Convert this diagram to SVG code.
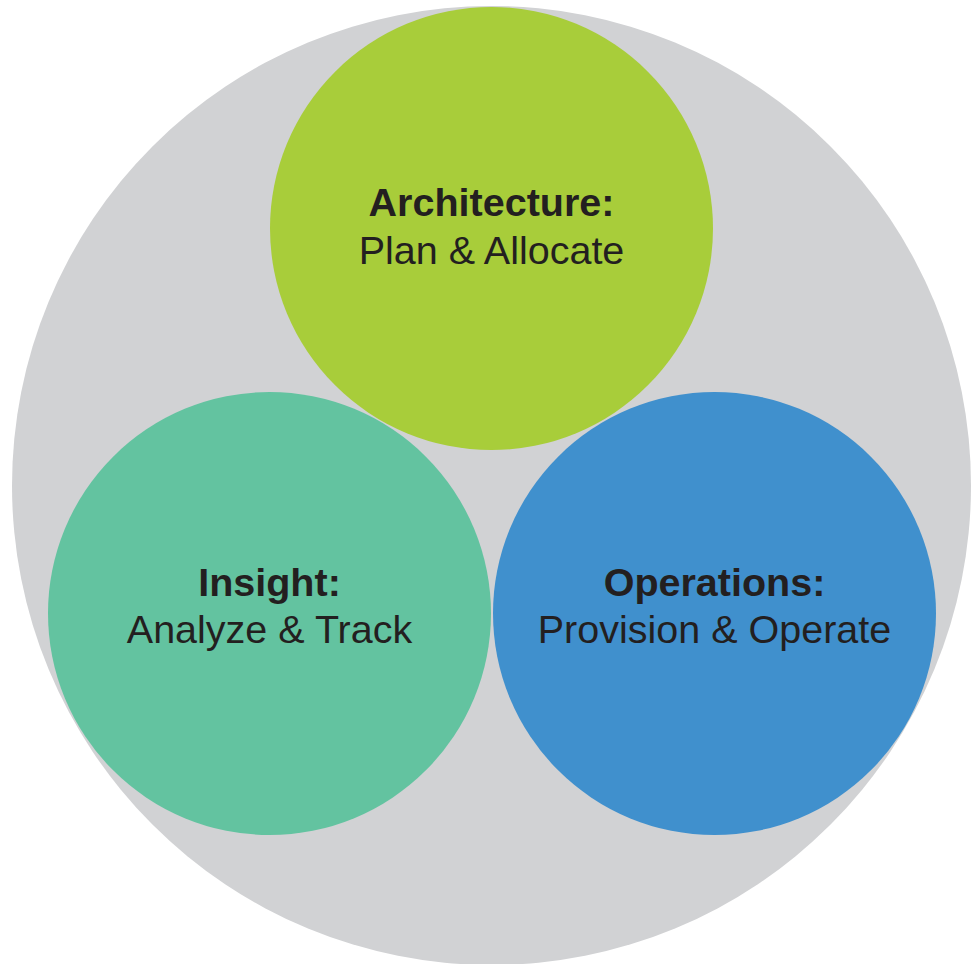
<svg xmlns="http://www.w3.org/2000/svg" width="976" height="964" viewBox="0 0 976 964">
<style>
text{font-family:"Liberation Sans",Arial,sans-serif;font-size:39.5px;fill:#231F20;text-anchor:middle}
.b{font-weight:bold}
</style>
<rect width="976" height="964" fill="#FFFFFF"/>
<g id="outer"><circle cx="491.5" cy="485.5" r="479.5" fill="#D1D2D4"/></g>
<g id="architecture">
<circle cx="491.5" cy="228.5" r="221.5" fill="#A8CD3A"/>
<text class="b" x="491.5" y="216">Architecture:</text>
<text x="491.5" y="264">Plan &amp; Allocate</text>
</g>
<g id="insight">
<circle cx="269.5" cy="613.5" r="221.5" fill="#63C3A0"/>
<text class="b" x="269.5" y="596">Insight:</text>
<text x="269.5" y="643">Analyze &amp; Track</text>
</g>
<g id="operations">
<circle cx="714.5" cy="613.5" r="221.5" fill="#4090CD"/>
<text class="b" x="714.5" y="596">Operations:</text>
<text x="714.5" y="643">Provision &amp; Operate</text>
</g>
<g id="connectors"></g>
</svg>
